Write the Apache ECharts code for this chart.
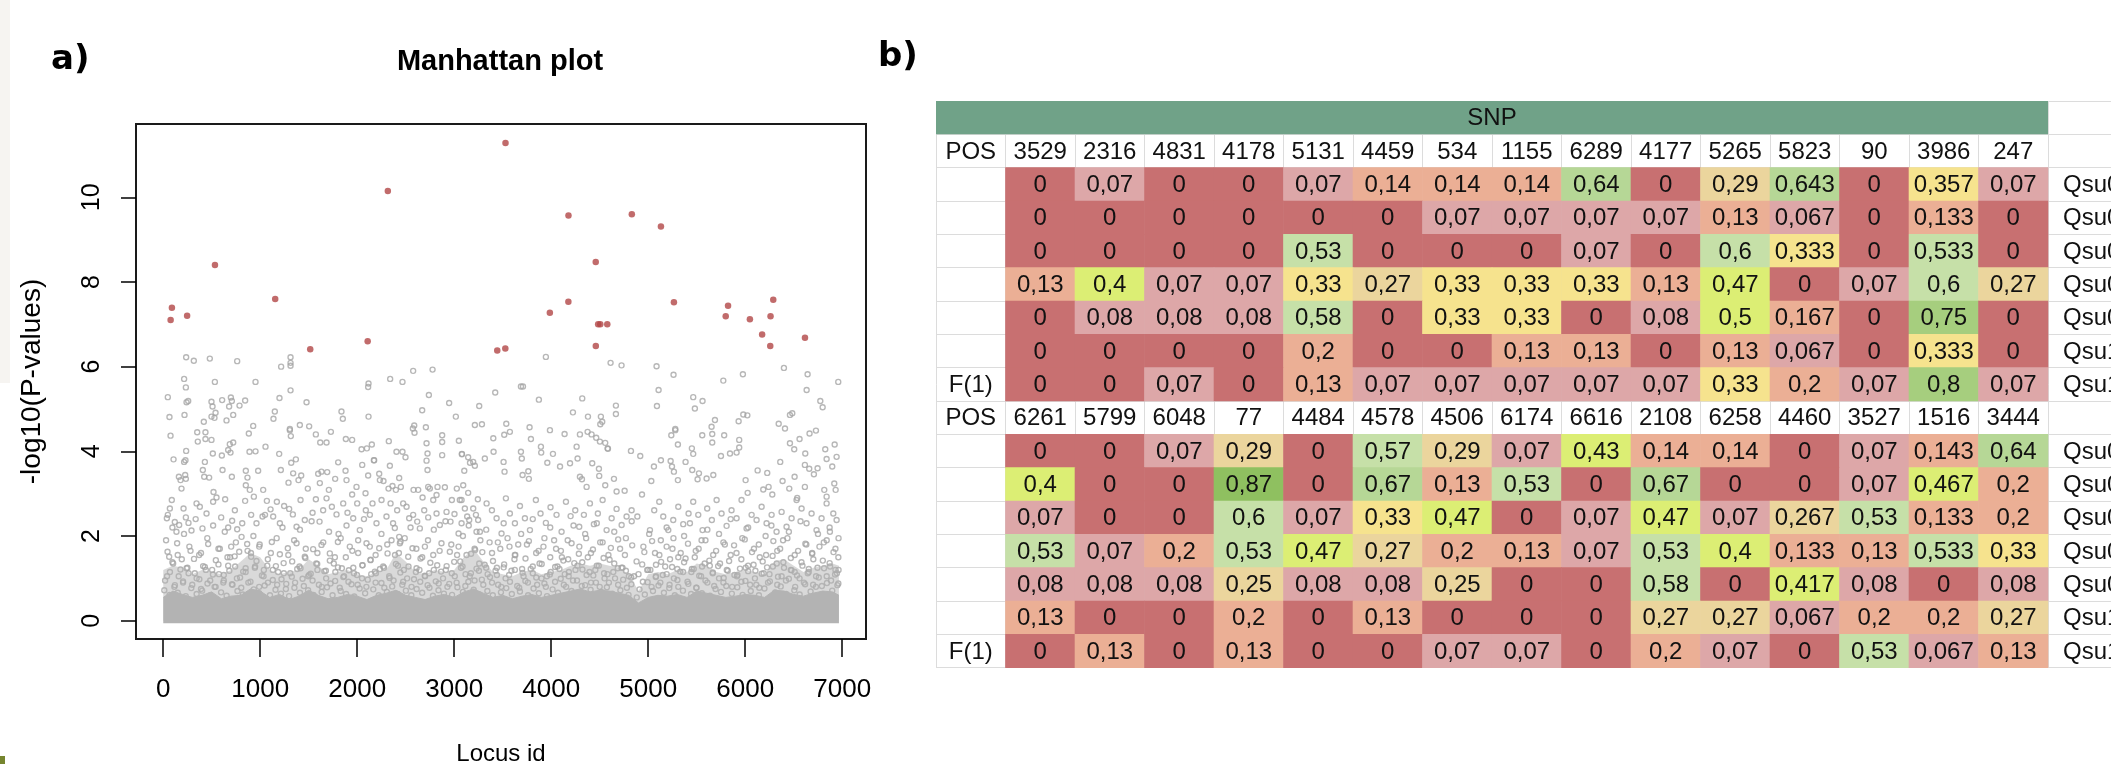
<!DOCTYPE html>
<html>
<head>
<meta charset="utf-8">
<title>Manhattan plot and SNP table</title>
<script src="https://cdn.jsdelivr.net/npm/echarts@6/dist/echarts.min.js"></script>
<style>
  html, body { margin: 0; padding: 0; background: #fff; }
  #main { width: 2111px; height: 766px; }
</style>
</head>
<body>
<div id="main"></div>
<script>
// ---------- panel b data: SNP table ----------
const posA = [3529, 2316, 4831, 4178, 5131, 4459, 534, 1155, 6289, 4177, 5265, 5823, 90, 3986, 247]
const posB = [6261, 5799, 6048, 77, 4484, 4578, 4506, 6174, 6616, 2108, 6258, 4460, 3527, 1516, 3444]
const freqA = [
  [0, 0.07, 0, 0, 0.07, 0.14, 0.14, 0.14, 0.64, 0, 0.29, 0.643, 0, 0.357, 0.07],
  [0, 0, 0, 0, 0, 0, 0.07, 0.07, 0.07, 0.07, 0.13, 0.067, 0, 0.133, 0],
  [0, 0, 0, 0, 0.53, 0, 0, 0, 0.07, 0, 0.6, 0.333, 0, 0.533, 0],
  [0.13, 0.4, 0.07, 0.07, 0.33, 0.27, 0.33, 0.33, 0.33, 0.13, 0.47, 0, 0.07, 0.6, 0.27],
  [0, 0.08, 0.08, 0.08, 0.58, 0, 0.33, 0.33, 0, 0.08, 0.5, 0.167, 0, 0.75, 0],
  [0, 0, 0, 0, 0.2, 0, 0, 0.13, 0.13, 0, 0.13, 0.067, 0, 0.333, 0],
  [0, 0, 0.07, 0, 0.13, 0.07, 0.07, 0.07, 0.07, 0.07, 0.33, 0.2, 0.07, 0.8, 0.07]
]
const freqB = [
  [0, 0, 0.07, 0.29, 0, 0.57, 0.29, 0.07, 0.43, 0.14, 0.14, 0, 0.07, 0.143, 0.64],
  [0.4, 0, 0, 0.87, 0, 0.67, 0.13, 0.53, 0, 0.67, 0, 0, 0.07, 0.467, 0.2],
  [0.07, 0, 0, 0.6, 0.07, 0.33, 0.47, 0, 0.07, 0.47, 0.07, 0.267, 0.53, 0.133, 0.2],
  [0.53, 0.07, 0.2, 0.53, 0.47, 0.27, 0.2, 0.13, 0.07, 0.53, 0.4, 0.133, 0.13, 0.533, 0.33],
  [0.08, 0.08, 0.08, 0.25, 0.08, 0.08, 0.25, 0, 0, 0.58, 0, 0.417, 0.08, 0, 0.08],
  [0.13, 0, 0, 0.2, 0, 0.13, 0, 0, 0, 0.27, 0.27, 0.067, 0.2, 0.2, 0.27],
  [0, 0.13, 0, 0.13, 0, 0, 0.07, 0.07, 0, 0.2, 0.07, 0, 0.53, 0.067, 0.13]
]
const popNames = ['Qsu05', 'Qsu06', 'Qsu07', 'Qsu08', 'Qsu09', 'Qsu10', 'Qsu11']
const rowTags = ['', '', '', '', '', '', 'F(1)']

// ---------- panel a data: Manhattan plot ----------
// -log10(p) of the outlier SNPs, same order as posA then posB
const hitLogP = [11.28, 10.15, 9.60, 9.57, 9.31, 8.47, 8.40, 7.60, 7.58, 7.53, 7.52, 7.44, 7.39, 7.27, 7.20,
  7.19, 7.19, 7.12, 7.10, 7.00, 7.00, 7.00, 6.76, 6.68, 6.60, 6.49, 6.49, 6.43, 6.41, 6.38]

// grey loci (locus, -log10 p)
const cloudHigh = [
  [237,6.22],[316,6.14],[481,6.19],[763,6.13],[1313,6.22],[1313,6.09],[1313,6.02],[1216,6.00],[216,5.71],[234,5.51],
  [533,5.64],[952,5.64],[1313,5.44],[48,5.28],[241,5.16],[258,5.19],[498,5.17],[509,5.06],[608,5.21],[698,5.27],
  [708,5.19],[845,5.20],[787,5.08],[680,5.06],[1199,5.26],[1478,5.16],[65,4.81],[220,4.86],[498,4.82],[540,4.91],
  [529,4.79],[722,4.86],[653,4.73],[419,4.70],[1151,4.94],[1137,4.77],[928,4.60],[1409,4.62],[1505,4.59],[1306,4.53],
  [2117,5.60],[2113,5.52],[2117,4.82],[2340,5.71],[2467,5.64],[2577,5.90],[2777,5.93],[2739,5.33],[2670,4.97],[2948,5.14],
  [3017,4.82],[1838,4.94],[1852,4.77],[2588,4.61],[2574,4.54],[2708,4.57],[3213,4.62],[3258,5.07],
  [3945,6.23],[4612,6.09],[4725,6.03],[5086,6.01],[5261,5.81],[6399,5.97],[6643,5.82],[5976,5.82],[5774,5.67],[6959,5.64],
  [6633,5.45],[5107,5.45],[3688,5.53],[3709,5.53],[3423,5.39],[3873,5.22],[4320,5.25],[4224,4.92],[4379,4.82],[4512,4.82],
  [4667,5.08],[4667,4.88],[5090,5.07],[5464,5.28],[5560,5.19],[5481,5.01],[6774,5.19],[6798,5.04],[5980,4.87],[6022,4.85],
  [5932,4.71],[5688,4.74],[5653,4.58],[6485,4.90],[6461,4.86],[6345,4.65],[6410,4.54],[4526,4.70],[4506,4.64],[3537,4.65],
  [3286,4.64],[3777,4.57],[5279,4.53]
]
const cloudMid = [
  [76,4.37],[351,4.45],[357,4.23],[436,4.45],[436,4.29],[498,4.27],[107,3.81],[237,4.01],[216,3.75],[430,3.75],
  [512,3.95],[605,3.90],[670,4.03],[694,3.97],[722,4.21],[687,4.17],[890,3.99],[952,4.00],[883,4.42],[1055,4.11],
  [1196,3.94],[1306,4.50],[1316,4.36],[1574,4.40],[1619,4.21],[1684,4.21],[1729,4.46],[1883,4.29],[1948,4.27],[2045,4.05],
  [2100,4.07],[2151,4.16],[2172,3.79],[2326,4.24],[2405,3.99],[2467,3.99],[2498,3.86],[2591,4.44],[2715,4.19],[2725,3.95],
  [2876,4.38],[2876,4.22],[2876,3.91],[3048,4.25],[3144,3.86],[3196,3.75],[3079,3.94],
  [162,3.40],[179,3.32],[227,3.44],[234,3.35],[189,3.12],[230,3.79],[409,3.56],[423,3.40],[474,3.38],[519,3.04],
  [612,3.56],[708,3.40],[852,3.54],[869,3.38],[979,3.54],[852,3.20],[1031,3.09],[1213,3.56],[1320,3.73],[1368,3.81],
  [1340,3.48],[1395,3.32],[1423,3.43],[1292,3.26],[1491,3.12],[1598,3.47],[1632,3.52],[1691,3.51],[1615,3.25],[1708,3.09],
  [1773,3.35],[1804,3.74],[1880,3.54],[1890,3.32],[1948,2.98],[1993,3.16],[2052,3.68],[2086,3.01],[2113,3.43],[2175,3.79],
  [2227,3.47],[2234,3.32],[2271,3.30],[2323,3.12],[2337,3.66],[2364,3.18],[2399,3.09],[2433,3.37],[2450,3.16],[2474,2.77],
  [2581,3.09],[2629,3.09],[2674,2.91],[2715,3.78],[2725,3.56],[2732,3.16],[2749,3.12],[2828,3.16],[2904,3.15],[2818,2.97],
  [2976,2.85],[3027,3.12],[3058,2.85],[3093,3.20],[3144,3.02],[3244,2.87],
  [3403,4.31],[3516,4.39],[3574,4.46],[3791,4.29],[3987,4.50],[4138,4.41],[4296,4.40],[4375,4.46],[4416,4.40],[4464,4.32],
  [4502,4.23],[4557,4.20],[4585,4.06],[5238,4.38],[5279,4.50],[5306,4.16],[5557,4.38],[5660,4.41],[5660,4.21],[5783,4.38],
  [5938,4.27],[5938,4.09],[6663,4.42],[6560,4.29],[6461,4.19],[6505,4.05],[6619,3.95],[6825,4.05],[6922,4.16],[6942,3.87],
  [6839,3.82],[6729,4.49],
  [3080,3.93],[3104,3.54],[3163,3.73],[3213,3.66],[3316,3.83],[3406,3.99],[3509,3.75],[3519,3.52],[3688,3.99],[3697,3.83],
  [3705,3.44],[3764,3.53],[3770,3.35],[3894,4.11],[3897,3.97],[3960,3.73],[4018,3.94],[4091,3.64],[4194,3.72],[4262,4.11],
  [4272,3.83],[4296,3.40],[4317,3.34],[4365,3.16],[4423,3.72],[4492,3.59],[4495,3.42],[4557,3.20],[4581,4.07],[4647,3.35],
  [4674,3.05],[4757,3.07],[4822,4.01],[4918,3.89],[4936,2.98],[5032,3.30],[5059,3.64],[5131,3.79],[5231,3.77],[5245,3.64],
  [5265,3.52],[5306,3.32],[5385,3.75],[5450,4.07],[5464,3.94],[5454,3.56],[5509,3.34],[5523,3.48],[5602,3.36],[5671,3.44],
  [5750,3.89],[5843,3.95],[5911,3.97],[6004,3.32],[6025,3.02],[6128,3.55],[6186,3.10],[6227,3.49],[6241,3.16],[6279,2.98],
  [6361,3.75],[6385,3.30],[6454,3.12],[6509,3.40],[6536,2.90],[6615,3.68],[6615,3.16],[6660,3.59],[6708,3.46],[6746,3.60],
  [6815,3.09],[6839,2.93],[6918,3.24],[6932,3.09],[6897,3.64]
]
const cloudLow = [
  [45,1.63],[69,2.65],[48,2.50],[89,2.85],[38,2.42],[120,2.33],[165,2.26],[137,2.10],[210,2.65],[234,2.44],
  [261,2.31],[292,2.13],[344,2.77],[378,2.69],[405,2.18],[447,2.53],[515,2.81],[550,2.91],[598,2.44],[639,2.87],
  [670,2.20],[711,2.36],[739,2.61],[763,2.16],[808,1.98],[845,2.83],[893,3.09],[907,2.50],[935,2.93],[962,2.30],
  [1024,2.46],[1069,2.83],[1107,2.63],[1134,2.46],[1172,2.81],[1203,2.30],[1247,2.71],[1299,2.64],[1337,2.51],[1375,2.22],
  [1416,2.85],[1460,2.38],[1540,2.55],[1574,2.87],[1612,2.34],[1649,2.61],[1684,2.89],[1739,2.69],[1787,2.51],[1808,2.05],
  [1856,2.77],[1900,2.55],[1959,2.42],[2000,2.77],[2027,2.14],[2089,2.61],[2131,2.50],[2158,2.77],[2199,2.30],[2251,2.85],
  [2302,2.46],[2344,2.77],[2388,2.19],[2412,2.61],[2433,1.98],[2447,1.87],[2509,2.69],[2536,2.42],[2577,2.50],[2619,2.34],
  [2646,2.18],[2691,2.61],[2732,2.44],[2784,2.85],[2818,2.53],[2852,2.26],[2921,2.57],[2962,2.34],[3003,2.52],[3045,2.06],
  [3076,2.30],[3134,2.46],[3196,2.65],[3230,2.10],[3247,2.38],
  [3076,2.85],[3110,2.65],[3155,2.38],[3224,2.50],[3265,2.10],[3334,2.77],[3389,2.61],[3437,2.42],[3488,2.06],[3533,2.89],
  [3574,2.53],[3626,2.30],[3678,2.71],[3729,2.42],[3781,2.14],[3842,2.85],[3890,2.53],[3945,2.31],[3993,2.68],[4055,2.50],
  [4107,2.10],[4152,2.81],[4200,2.47],[4248,2.61],[4289,2.22],[4337,2.50],[4399,2.77],[4440,2.28],[4481,2.53],[4530,2.85],
  [4571,2.14],[4623,2.42],[4674,2.64],[4726,2.26],[4777,2.46],[4829,2.61],[4888,2.46],[5018,2.14],[5062,2.61],[5114,2.81],
  [5155,2.46],[5207,2.14],[5258,2.38],[5310,2.69],[5361,2.28],[5416,2.53],[5464,2.81],[5516,2.50],[5560,2.14],[5608,2.65],
  [5656,2.38],[5705,2.85],[5756,2.53],[5808,2.24],[5859,2.61],[5911,2.42],[5962,2.85],[6014,2.18],[6066,2.50],[6117,2.38],
  [6169,2.69],[6220,2.30],[6272,2.50],[6323,2.10],[6375,2.57],[6426,2.22],[6478,2.42],[6529,2.85],[6581,2.65],[6632,2.30],
  [6684,2.53],[6735,2.14],[6787,2.42],[6839,2.77],[6873,2.10],[6908,2.53],[6942,2.38],
  [62,1.51],[103,1.35],[144,1.83],[192,1.45],[241,1.24],[282,1.65],[326,1.12],[371,1.55],[412,1.29],[464,1.81],
  [505,1.20],[543,1.43],[584,1.70],[625,1.08],[663,1.50],[701,1.75],[742,1.28],[784,1.63],[825,1.16],[866,1.81],
  [907,1.51],[948,1.28],[990,1.75],[1038,1.20],[1079,1.45],[1120,1.86],[1162,1.29],[1203,1.57],[1244,1.12],[1285,1.71],
  [1330,1.40],[1375,1.83],[1416,1.24],[1460,1.51],[1505,1.08],[1546,1.69],[1588,1.34],[1632,1.79],[1677,1.18],[1718,1.59],
  [1759,1.35],[1801,1.86],[1842,1.24],[1883,1.50],[1924,1.75],[1966,1.12],[2010,1.60],[2055,1.31],[2096,1.83],[2137,1.43],
  [2182,1.16],[2227,1.71],[2268,1.28],[2313,1.59],[2354,1.90],[2399,1.34],[2440,1.83],[2481,1.20],[2526,1.51],[2570,1.71],
  [2612,1.24],[2653,1.47],[2698,1.75],[2742,1.12],[2784,1.55],[2825,1.31],[2869,1.83],[2914,1.20],[2955,1.63],[3000,1.39],
  [3045,1.75],[3086,1.28],[3127,1.55],[3172,1.12],[3216,1.67],[3258,1.35],
  [3290,1.62],[3330,1.25],[3365,1.85],[3400,1.41],[3440,1.08],[3475,1.70],[3515,1.33],[3550,1.95],[3590,1.18],[3625,1.55],
  [3660,1.80],[3700,1.22],[3735,1.47],[3770,1.88],[3810,1.12],[3845,1.60],[3880,1.35],[3920,1.75],[3955,1.05],[3990,1.50],
  [4030,1.90],[4065,1.28],[4100,1.65],[4140,1.10],[4175,1.45],[4210,1.83],[4250,1.20],[4285,1.58],[4320,1.38],[4360,1.95],
  [4395,1.15],[4430,1.68],[4470,1.30],[4505,1.85],[4540,1.48],[4580,1.10],[4615,1.72],[4650,1.35],[4690,1.92],[4725,1.25],
  [4760,1.55],[4800,1.05],[4835,1.78],[4880,1.40],[4960,1.62],[5000,1.20],[5040,1.88],[5080,1.32],[5115,1.55],[5150,1.08],
  [5190,1.75],[5225,1.45],[5260,1.95],[5300,1.22],[5335,1.60],[5370,1.38],[5410,1.82],[5445,1.15],[5480,1.50],[5520,1.70],
  [5555,1.28],[5590,1.90],[5630,1.42],[5665,1.12],[5700,1.65],[5740,1.35],[5775,1.85],[5810,1.20],[5850,1.55],[5885,1.78],
  [5920,1.08],[5960,1.45],[5995,1.92],[6030,1.30],[6070,1.62],[6105,1.18],[6140,1.80],[6180,1.40],[6215,1.55],[6250,1.10],
  [6290,1.88],[6325,1.35],[6360,1.70],[6400,1.25],[6435,1.95],[6470,1.48],[6510,1.15],[6545,1.65],[6580,1.38],[6620,1.82],
  [6655,1.22],[6690,1.58],[6730,1.05],[6765,1.75],[6800,1.42],[6840,1.90],[6875,1.28],[6910,1.62],[6945,1.12],[6960,1.50],
  [20,0.95],[70,1.15],[115,0.8],[160,1.05],[205,0.9],[250,1.25],[300,0.85],[345,1.0],[390,0.75],[440,1.2],
  [485,0.95],[530,0.8],[575,1.1],[620,0.9],[670,1.3],[715,0.85],[760,1.0],[805,0.78],[850,1.15],[900,0.92],
  [945,1.25],[990,0.8],[1035,1.05],[1080,0.9],[1130,1.2],[1175,0.85],[1220,0.98],[1265,0.75],[1310,1.12],[1360,0.9],
  [1405,1.28],[1450,0.82],[1495,1.05],[1540,0.95],[1590,1.2],[1635,0.8],[1680,1.0],[1725,0.88],[1775,1.15],[1820,0.78],
  [1865,1.05],[1910,0.92],[1960,1.25],[2005,0.85],[2050,1.0],[2095,0.8],[2145,1.1],[2190,0.9],[2235,1.22],[2280,0.78],
  [2330,1.05],[2375,0.95],[2420,1.3],[2465,0.85],[2515,1.0],[2560,0.8],[2605,1.15],[2650,0.92],[2700,1.05],[2745,0.78],
  [2790,1.2],[2840,0.88],[2885,1.0],[2930,0.8],[2975,1.12],[3025,0.9],[3070,1.25],[3115,0.82],[3160,1.05],[3210,0.95],
  [3255,1.18],[3300,0.85],[3345,1.1],[3390,0.9],[3440,1.25],[3485,0.8],[3530,1.0],[3575,0.92],[3625,1.2],[3670,0.78],
  [3715,1.05],[3760,0.9],[3810,1.28],[3855,0.85],[3900,1.0],[3945,0.8],[3995,1.15],[4040,0.92],[4085,1.22],[4130,0.85],
  [4180,1.05],[4225,0.95],[4270,1.3],[4315,0.82],[4365,1.08],[4410,0.9],[4455,1.2],[4500,0.8],[4550,1.0],[4595,0.9],
  [4640,1.15],[4690,0.85],[4735,1.25],[4780,0.78],[4825,1.02],[4900,1.1],[4945,0.92],[4990,1.2],[5035,0.8],[5080,1.05],
  [5125,0.9],[5175,1.28],[5220,0.85],[5265,1.0],[5310,0.8],[5360,1.15],[5405,0.92],[5450,1.22],[5495,0.78],[5545,1.05],
  [5590,0.95],[5635,1.3],[5680,0.82],[5730,1.0],[5775,0.9],[5820,1.18],[5865,0.8],[5915,1.05],[5960,0.92],[6005,1.25],
  [6050,0.85],[6100,1.0],[6145,0.78],[6190,1.12],[6235,0.9],[6285,1.28],[6330,0.85],[6375,1.05],[6420,0.95],[6470,1.2],
  [6515,0.8],[6560,1.0],[6605,0.9],[6655,1.15],[6700,0.85],[6745,1.25],[6790,0.82],[6840,1.05],[6885,0.95],[6930,1.2],
  [6960,0.88]
]
// the crowded lower part of the cloud, just above the saturated band
const cloudDense = [
  [12,0.72],[40,1.05],[66,0.61],[95,1.38],[121,0.84],[150,0.66],[178,1.21],[205,0.93],[233,0.58],[262,1.12],
  [290,0.77],[318,1.46],[345,0.63],[373,0.98],[402,0.71],[430,1.27],[457,0.88],[486,0.6],[513,1.09],[541,0.8],
  [570,1.33],[597,0.67],[625,0.95],[654,0.59],[682,1.18],[709,0.86],[737,1.52],[766,0.7],[793,1.02],[821,0.62],
  [850,1.24],[878,0.9],[905,1.6],[934,0.74],[962,1.41],[989,0.65],[1018,1.07],[1046,0.83],[1073,1.3],[1101,0.6],
  [1130,0.96],[1158,0.73],[1185,1.15],[1214,0.64],[1242,1.36],[1269,0.87],[1298,0.58],[1326,1.04],[1353,0.78],[1382,1.22],
  [1410,0.66],[1437,0.99],[1466,1.48],[1494,0.72],[1521,1.11],[1550,0.61],[1578,1.35],[1605,0.85],[1634,0.68],[1662,1.17],
  [1689,0.79],[1718,1.42],[1746,0.6],[1773,0.94],[1802,1.26],[1830,0.7],[1857,1.03],[1886,0.63],[1914,1.19],[1941,0.86],
  [1970,0.57],[1998,1.08],[2025,0.76],[2054,1.31],[2082,0.65],[2109,0.97],[2138,1.44],[2166,0.74],[2193,1.12],[2222,0.6],
  [2250,0.89],[2277,1.25],[2306,0.68],[2334,1.01],[2361,0.81],[2390,1.55],[2418,0.63],[2445,1.14],[2474,0.92],[2502,0.71],
  [2529,1.28],[2558,0.6],[2586,0.98],[2613,0.75],[2642,1.2],[2670,0.66],[2697,1.06],[2726,0.84],[2754,1.37],[2781,0.59],
  [2810,0.93],[2838,0.72],[2865,1.16],[2894,0.64],[2922,1.29],[2949,0.87],[2978,0.61],[3006,1.05],[3033,0.79],[3062,1.4],
  [3090,0.68],[3117,1.1],[3146,0.92],[3174,1.58],[3201,0.73],[3230,1.23],[3258,0.62],[3285,0.97],[3314,1.32],[3342,0.7],
  [3369,1.03],[3398,0.6],[3426,1.18],[3453,0.85],[3482,0.67],[3510,1.26],[3537,0.77],[3566,1.08],[3594,0.63],[3621,1.45],
  [3650,0.82],[3678,0.69],[3705,1.13],[3734,0.94],[3762,0.6],[3789,1.22],[3818,0.76],[3846,1.02],[3873,0.65],[3902,1.34],
  [3930,0.88],[3957,0.58],[3986,1.09],[4014,0.74],[4041,1.27],[4070,0.66],[4098,0.99],[4125,1.42],[4154,0.8],[4182,1.15],
  [4209,0.7],[4238,1.36],[4266,0.95],[4293,0.62],[4322,1.21],[4350,0.84],[4377,1.5],[4406,0.73],[4434,1.07],[4461,0.9],
  [4490,1.3],[4518,0.68],[4545,1.12],[4574,0.79],[4602,1.44],[4629,0.64],[4658,1.0],[4686,1.24],[4713,0.72],[4742,0.97],
  [4770,1.18],[4797,0.61],[4826,0.86],[4854,1.05],[4882,0.55],[4910,0.74],[4938,1.33],[4965,0.62],[4994,0.91],[5022,1.2],
  [5049,0.7],[5078,1.03],[5106,0.83],[5133,1.39],[5162,0.66],[5190,1.1],[5217,0.77],[5246,1.27],[5274,0.6],[5301,0.96],
  [5330,1.16],[5358,0.71],[5385,1.47],[5414,0.87],[5442,0.63],[5469,1.22],[5498,0.78],[5526,1.06],[5553,0.65],[5582,1.35],
  [5610,0.9],[5637,0.59],[5666,1.14],[5694,0.75],[5721,1.29],[5750,0.68],[5778,1.01],[5805,0.82],[5834,1.41],[5862,0.64],
  [5889,1.08],[5918,0.79],[5946,1.23],[5973,0.61],[6002,0.94],[6030,1.17],[6057,0.7],[6086,1.32],[6114,0.85],[6141,0.6],
  [6170,1.11],[6198,0.76],[6225,1.26],[6254,0.93],[6282,1.53],[6309,0.67],[6338,1.04],[6366,0.81],[6393,1.38],[6422,0.63],
  [6450,0.99],[6477,1.19],[6506,0.72],[6534,1.07],[6561,0.62],[6590,1.3],[6618,0.86],[6645,1.12],[6674,0.69],[6702,1.45],
  [6729,0.8],[6758,1.02],[6786,0.6],[6813,1.24],[6842,0.89],[6870,1.36],[6897,0.71],[6926,1.09],[6950,0.84],[6962,1.2],
  [30,1.9],[95,2.2],[150,1.55],[215,2.05],[270,1.75],[335,2.4],[390,1.6],[455,1.95],[515,2.25],[570,1.7],
  [635,2.1],[690,1.5],[750,1.85],[815,2.3],[870,1.65],[930,2.0],[995,1.8],[1050,2.5],[1110,1.6],[1170,1.95],
  [1230,2.2],[1290,1.55],[1350,1.9],[1410,2.15],[1470,1.7],[1530,2.35],[1590,1.6],[1650,1.85],[1710,2.1],[1770,1.5],
  [1830,1.95],[1890,2.25],[1950,1.65],[2010,1.9],[2070,2.4],[2130,1.75],[2190,1.55],[2250,2.05],[2310,1.8],[2370,2.3],
  [2430,1.6],[2490,1.95],[2550,2.2],[2610,1.7],[2670,1.5],[2730,1.9],[2790,2.15],[2850,1.65],[2910,2.35],[2970,1.8],
  [3030,1.55],[3090,2.0],[3150,2.25],[3210,1.7],[3270,1.9],[3330,2.15],[3390,1.6],[3450,1.85],[3510,2.3],[3570,1.75],
  [3630,1.55],[3690,2.05],[3750,1.8],[3810,2.4],[3870,1.65],[3930,1.95],[3990,2.2],[4050,1.7],[4110,1.5],[4170,1.9],
  [4230,2.25],[4290,1.75],[4350,2.05],[4410,1.6],[4470,2.3],[4530,1.85],[4590,1.55],[4650,2.1],[4710,1.7],[4770,1.95],
  [4830,2.35],[4950,1.75],[5010,2.05],[5070,1.6],[5130,1.9],[5190,2.2],[5250,1.7],[5310,1.5],[5370,2.0],[5430,2.3],
  [5490,1.65],[5550,1.9],[5610,2.15],[5670,1.55],[5730,2.05],[5790,1.8],[5850,2.4],[5910,1.6],[5970,1.95],[6030,2.2],
  [6090,1.7],[6150,1.5],[6210,2.0],[6270,2.25],[6330,1.65],[6390,1.9],[6450,2.1],[6510,1.55],[6570,2.35],[6630,1.8],
  [6690,1.6],[6750,2.05],[6810,1.85],[6870,2.2],[6930,1.7],[6962,1.95]
]
// top of the saturated grey band near zero, and of the crowded zone above it
const baseLoci = [1, 100, 200, 300, 400, 500, 600, 700, 800, 900, 1000, 1100, 1200, 1300, 1400, 1500, 1600, 1700, 1800,
  1900, 2000, 2100, 2200, 2300, 2400, 2500, 2600, 2700, 2800, 2900, 3000, 3100, 3200, 3300, 3400, 3500, 3600, 3700,
  3800, 3900, 4000, 4100, 4200, 4300, 4400, 4500, 4600, 4700, 4800, 4900, 5000, 5100, 5200, 5300, 5400, 5500, 5600,
  5700, 5800, 5900, 6000, 6100, 6200, 6300, 6400, 6500, 6600, 6700, 6800, 6900, 6966]
const baseTop = [0.55, 0.7, 0.62, 0.55, 0.6, 0.68, 0.52, 0.58, 0.6, 0.75, 0.7, 0.55, 0.62, 0.5, 0.58, 0.72, 0.6, 0.52, 0.55,
  0.62, 0.58, 0.5, 0.6, 0.65, 0.72, 0.6, 0.55, 0.5, 0.58, 0.62, 0.55, 0.68, 0.75, 0.65, 0.55, 0.6, 0.52, 0.58,
  0.62, 0.55, 0.6, 0.65, 0.7, 0.75, 0.68, 0.72, 0.7, 0.65, 0.6, 0.42, 0.55, 0.6, 0.58, 0.62, 0.55, 0.7, 0.65,
  0.6, 0.55, 0.58, 0.62, 0.6, 0.55, 0.72, 0.7, 0.62, 0.58, 0.65, 0.7, 0.68, 0.6]
const crowdTop = [1.2, 1.3, 1.25, 1.1, 1.2, 1.15, 1.1, 1.2, 1.4, 1.6, 1.5, 1.2, 1.1, 1.15, 1.2, 1.45, 1.3, 1.1, 1.15,
  1.2, 1.1, 1.05, 1.15, 1.2, 1.6, 1.4, 1.15, 1.1, 1.2, 1.15, 1.2, 1.5, 1.7, 1.4, 1.15, 1.1, 1.05, 1.15,
  1.2, 1.1, 1.15, 1.2, 1.3, 1.35, 1.3, 1.35, 1.3, 1.25, 1.1, 0.7, 1.1, 1.15, 1.1, 1.2, 1.15, 1.35, 1.3,
  1.15, 1.1, 1.15, 1.2, 1.15, 1.1, 1.4, 1.45, 1.3, 1.15, 1.25, 1.3, 1.35, 1.3]

const xTicks = [0, 1000, 2000, 3000, 4000, 5000, 6000, 7000]
const yTicks = [0, 2, 4, 6, 8, 10]

// ---------- build ----------
const chart = echarts.init(document.getElementById('main'))

const hitLoci = posA.concat(posB)
const hits = hitLoci.map((x, i) => [x, hitLogP[i]])
const cloud = cloudDense.concat(cloudLow, cloudMid, cloudHigh)

// table cells: [column, row, value]; row 0 is the SNP header
const cells = []
;[freqA, freqB].forEach((rows, b) => {
  rows.forEach((vals, r) => {
    vals.forEach((v, c) => cells.push([c + 1, b * 8 + 2 + r, v]))
  })
})
const textCells = []
const textLabels = []
const textLeft = []
function addText(col, row, text, left) {
  textCells.push([col, row])
  textLabels.push(text)
  textLeft.push(!!left)
}
;[posA, posB].forEach((pos, b) => {
  const r0 = b * 8 + 1
  addText(0, r0, 'POS')
  pos.forEach((p, c) => addText(c + 1, r0, String(p)))
  popNames.forEach((name, r) => {
    addText(0, r0 + 1 + r, rowTags[r])
    addText(16, r0 + 1 + r, name, true)
  })
})

const tableFont = '24px "Liberation Sans", Arial, sans-serif'
const regular = '"Liberation Sans", Arial, sans-serif'
const fmt = v => String(v).replace('.', ',')
const tableCols = Array.from({ length: 17 }, (_, i) => 'c' + i)
const tableRows = Array.from({ length: 17 }, (_, i) => 'r' + i)

const option = {
  animation: false,
  backgroundColor: '#fff',
  title: [
    { text: 'Manhattan plot', left: 500, top: 47, textAlign: 'center', padding: 0,
      textStyle: { fontSize: 29, fontWeight: 'bold', color: '#000', fontFamily: regular } },
    { text: 'a)', left: 51, top: 43, padding: 0,
      textStyle: { fontSize: 34, fontWeight: 'bold', color: '#000', fontFamily: '"DejaVu Sans", sans-serif' } },
    { text: 'b)', left: 878, top: 40, padding: 0,
      textStyle: { fontSize: 34, fontWeight: 'bold', color: '#000', fontFamily: '"DejaVu Sans", sans-serif' } }
  ],
  graphic: [
    { type: 'rect', z: -10, shape: { x: 0, y: 0, width: 10, height: 383 }, style: { fill: '#f6f4f1' } },
    { type: 'rect', z: -10, shape: { x: 0, y: 756, width: 5, height: 8 }, style: { fill: '#76852f' } }
  ],
  grid: [
    { left: 136, top: 124, width: 730, height: 515, show: true, borderColor: '#1a1a1a', borderWidth: 2,
      backgroundColor: 'transparent', outerBoundsMode: 'none' },
    { left: 936, top: 101, width: 69.5 * 17, height: 33.33 * 17, show: false, outerBoundsMode: 'none' }
  ],
  xAxis: [
    { gridIndex: 0, type: 'value', min: -280, max: 7245,
      axisLine: { show: false, onZero: false },
      axisTick: { show: true, customValues: xTicks, length: 18, lineStyle: { color: '#000', width: 1.5 } },
      axisLabel: { show: true, customValues: xTicks, formatter: v => String(v), margin: 38,
        fontSize: 26, fontFamily: regular, color: '#000' },
      splitLine: { show: false },
      name: 'Locus id', nameLocation: 'middle', nameGap: 103, nameMoveOverlap: false,
      nameTextStyle: { fontSize: 24, fontFamily: regular, color: '#000' } },
    { gridIndex: 1, type: 'category', data: tableCols,
      axisLine: { show: false }, axisTick: { show: false }, axisLabel: { show: false },
      splitLine: { show: true, interval: 0, lineStyle: { color: '#dcdcdc', width: 1 } } }
  ],
  yAxis: [
    { gridIndex: 0, type: 'value', min: -0.432, max: 11.73,
      axisLine: { show: false, onZero: false },
      axisTick: { show: true, customValues: yTicks, length: 15, lineStyle: { color: '#000', width: 1.5 } },
      axisLabel: { show: true, customValues: yTicks, formatter: v => String(v), rotate: 90, margin: 31,
        fontSize: 25, fontFamily: regular, color: '#000' },
      splitLine: { show: false },
      name: '-log10(P-values)', nameLocation: 'middle', nameRotate: 90, nameGap: 90, nameMoveOverlap: false,
      nameTextStyle: { fontSize: 28, fontFamily: regular, color: '#000' } },
    { gridIndex: 1, type: 'category', data: tableRows, inverse: true,
      axisLine: { show: false }, axisTick: { show: false }, axisLabel: { show: false },
      splitLine: { show: true, interval: 0, lineStyle: { color: '#dcdcdc', width: 1 } } }
  ],
  visualMap: {
    type: 'piecewise', show: false, seriesIndex: 4, dimension: 2,
    pieces: [
      { value: 0, color: '#c87071' },
      { gt: 0, lt: 0.1, color: '#dda7a8' },
      { gte: 0.1, lt: 0.22, color: '#ebaf95' },
      { gte: 0.22, lt: 0.31, color: '#ebd59d' },
      { gte: 0.31, lt: 0.37, color: '#f6e38e' },
      { gte: 0.37, lt: 0.52, color: '#dcee74' },
      { gte: 0.52, lt: 0.62, color: '#c6e0a8' },
      { gte: 0.62, lt: 0.7, color: '#b6d796' },
      { gte: 0.7, lt: 0.84, color: '#a6ce7e' },
      { gte: 0.84, color: '#8fc060' }
    ]
  },
  series: [
    { type: 'line', xAxisIndex: 0, yAxisIndex: 0, silent: true,
      data: baseLoci.map((x, i) => [x, crowdTop[i]]),
      symbol: 'none', lineStyle: { width: 0, opacity: 0 },
      areaStyle: { color: '#b3b3b3', opacity: 0.5, origin: 0 } },
    { type: 'line', xAxisIndex: 0, yAxisIndex: 0, silent: true,
      data: baseLoci.map((x, i) => [x, baseTop[i]]),
      symbol: 'none', lineStyle: { color: '#b3b3b3', width: 1 },
      areaStyle: { color: '#b3b3b3', opacity: 1, origin: -0.06 } },
    { type: 'scatter', xAxisIndex: 0, yAxisIndex: 0, silent: true,
      data: cloud, symbol: 'circle', symbolSize: 5,
      itemStyle: { color: 'rgba(0,0,0,0)', borderColor: '#a5a5a5', borderWidth: 1.4 } },
    { type: 'scatter', xAxisIndex: 0, yAxisIndex: 0, silent: true,
      data: hits, symbol: 'circle', symbolSize: 6.5,
      itemStyle: { color: '#b14646' } },
    { type: 'custom', xAxisIndex: 1, yAxisIndex: 1, silent: true,
      data: cells,
      renderItem: (params, api) => {
        const p = api.coord([api.value(0), api.value(1)])
        const s = api.size([1, 1])
        return { type: 'group', children: [
          { type: 'rect', shape: { x: p[0] - s[0] / 2 - 0.3, y: p[1] - s[1] / 2 - 0.3, width: s[0] + 0.6, height: s[1] + 0.6 },
            style: { fill: api.visual('color') } },
          { type: 'text', x: p[0], y: p[1] + 1,
            style: { text: fmt(api.value(2)), font: tableFont, fill: '#111', align: 'center', verticalAlign: 'middle' } }
        ] }
      } },
    { type: 'custom', xAxisIndex: 1, yAxisIndex: 1, silent: true,
      data: textCells,
      renderItem: (params, api) => {
        const p = api.coord([api.value(0), api.value(1)])
        const s = api.size([1, 1])
        const left = textLeft[params.dataIndex]
        return { type: 'text', x: left ? p[0] - s[0] / 2 + 15 : p[0], y: p[1] + 1,
          style: { text: textLabels[params.dataIndex], font: tableFont, fill: '#111',
            align: left ? 'left' : 'center', verticalAlign: 'middle' } }
      } },
    { type: 'custom', xAxisIndex: 1, yAxisIndex: 1, silent: true,
      data: [[0, 0]],
      renderItem: (params, api) => {
        const a = api.coord([0, 0])
        const b = api.coord([15, 0])
        const s = api.size([1, 1])
        return { type: 'group', children: [
          { type: 'rect', shape: { x: a[0] - s[0] / 2, y: a[1] - s[1] / 2, width: b[0] - a[0] + s[0], height: s[1] },
            style: { fill: '#70a288' } },
          { type: 'text', x: (a[0] + b[0]) / 2, y: a[1] + 1,
            style: { text: 'SNP', font: tableFont, fill: '#111', align: 'center', verticalAlign: 'middle' } }
        ] }
      } }
  ]
}

chart.setOption(option)
</script>
</body>
</html>
